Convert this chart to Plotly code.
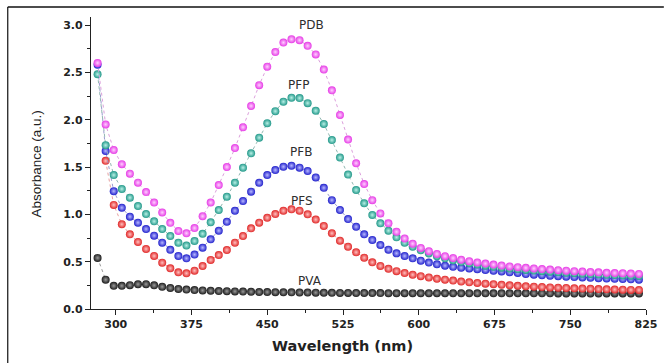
import plotly.graph_objects as go

# ---- data ----
wavelength = [282, 290, 298, 306, 314, 322, 330, 338, 346, 354, 362, 370, 378, 386, 394, 402,
              410, 418, 426, 434, 442, 450, 458, 466, 474, 482, 490, 498, 506, 514, 522, 530,
              538, 546, 554, 562, 570, 578, 586, 594, 602, 610, 618, 626, 634, 642, 650, 658,
              666, 674, 682, 690, 698, 706, 714, 722, 730, 738, 746, 754, 762, 770, 778, 786,
              794, 802, 810, 818]

pdb = [2.60, 1.95, 1.68, 1.53, 1.43, 1.335, 1.235, 1.125, 1.02, 0.91, 0.825, 0.80, 0.855, 0.98, 1.125, 1.31,
       1.50, 1.70, 1.92, 2.145, 2.365, 2.56, 2.715, 2.815, 2.85, 2.84, 2.78, 2.69, 2.53, 2.31, 2.05, 1.79,
       1.54, 1.32, 1.15, 1.01, 0.905, 0.815, 0.745, 0.69, 0.645, 0.61, 0.582, 0.558, 0.538, 0.52, 0.505, 0.492,
       0.48, 0.469, 0.459, 0.45, 0.442, 0.435, 0.428, 0.422, 0.416, 0.41, 0.405, 0.40, 0.395, 0.391, 0.387, 0.383,
       0.38, 0.377, 0.374, 0.371]

pfp = [2.48, 1.73, 1.415, 1.268, 1.176, 1.088, 1.003, 0.926, 0.845, 0.771, 0.70, 0.67, 0.718, 0.795, 0.916, 1.045,
       1.186, 1.334, 1.493, 1.645, 1.81, 1.962, 2.09, 2.19, 2.232, 2.228, 2.175, 2.095, 1.955, 1.785, 1.60, 1.42,
       1.257, 1.117, 0.993, 0.905, 0.827, 0.757, 0.70, 0.658, 0.62, 0.587, 0.558, 0.535, 0.515, 0.498, 0.483, 0.47,
       0.458, 0.447, 0.437, 0.428, 0.42, 0.413, 0.406, 0.40, 0.394, 0.388, 0.383, 0.378, 0.373, 0.369, 0.365, 0.361,
       0.358, 0.355, 0.352, 0.349]

pfb = [2.58, 1.67, 1.245, 1.07, 0.975, 0.912, 0.845, 0.775, 0.70, 0.625, 0.56, 0.535, 0.575, 0.648, 0.736, 0.827,
       0.922, 1.038, 1.14, 1.24, 1.334, 1.415, 1.468, 1.503, 1.514, 1.493, 1.458, 1.39, 1.28, 1.15, 1.046, 0.95,
       0.869, 0.789, 0.729, 0.676, 0.627, 0.588, 0.56, 0.535, 0.51, 0.49, 0.472, 0.458, 0.446, 0.436, 0.428, 0.42,
       0.412, 0.404, 0.396, 0.388, 0.38, 0.37, 0.363, 0.357, 0.351, 0.346, 0.341, 0.337, 0.333, 0.329, 0.325, 0.322,
       0.319, 0.316, 0.313, 0.31]

pfs = [None, 1.565, 1.10, 0.895, 0.789, 0.708, 0.634, 0.56, 0.489, 0.43, 0.387, 0.377, 0.405, 0.454, 0.518, 0.57,
       0.623, 0.70, 0.771, 0.852, 0.912, 0.964, 1.003, 1.038, 1.053, 1.038, 1.0, 0.945, 0.877, 0.80, 0.722, 0.658,
       0.599, 0.542, 0.493, 0.455, 0.425, 0.40, 0.38, 0.362, 0.347, 0.333, 0.32, 0.31, 0.30, 0.29, 0.282, 0.275,
       0.268, 0.262, 0.256, 0.25, 0.245, 0.24, 0.236, 0.232, 0.228, 0.225, 0.222, 0.219, 0.216, 0.213, 0.21, 0.208,
       0.206, 0.204, 0.202, 0.20]

pva = [0.54, 0.31, 0.245, 0.245, 0.252, 0.262, 0.262, 0.25, 0.235, 0.222, 0.212, 0.205, 0.20, 0.196, 0.193, 0.19,
       0.188, 0.186, 0.184, 0.182, 0.18, 0.179, 0.178, 0.177, 0.176, 0.175, 0.174, 0.173, 0.172, 0.171, 0.17, 0.17,
       0.169, 0.169, 0.168, 0.168, 0.167, 0.167, 0.167, 0.167, 0.167, 0.167, 0.167, 0.167, 0.167, 0.167, 0.167, 0.166,
       0.166, 0.166, 0.166, 0.166, 0.166, 0.166, 0.166, 0.166, 0.166, 0.165, 0.165, 0.165, 0.165, 0.165, 0.165, 0.165,
       0.165, 0.165, 0.165, 0.165]

series_names = ["PVA", "PFS", "PFB", "PFP", "PDB"]
series_values = [pva, pfs, pfb, pfp, pdb]
marker_colors = ["#1c1c1c", "#e02828", "#2222cc", "#23998a", "#e63ce6"]
highlight_colors = ["#9a9a9a", "#ffc0c0", "#b8b8ff", "#b8f0e6", "#ffd0ff"]
line_colors = ["#9a9a9a", "#e8a0a0", "#9a9ad0", "#92b8b2", "#dca0dc"]

label_text = ["PDB", "PFP", "PFB", "PFS", "PVA"]
label_x = [493.8, 480.6, 483.8, 484.8, 492.0]
label_y = [3.0, 2.366, 1.662, 1.141, 0.299]

x_ticks = [300, 375, 450, 525, 600, 675, 750, 825]
y_ticks = [0.0, 0.5, 1.0, 1.5, 2.0, 2.5, 3.0]

fig = go.Figure()
for name, vals, mc, hc, lc in zip(series_names, series_values, marker_colors, highlight_colors, line_colors):
    fig.add_trace(go.Scatter(
        x=wavelength, y=vals, name=name, mode="lines+markers",
        line=dict(color=lc, width=1, dash="dot"),
        marker=dict(size=8, color=mc, line=dict(width=0),
                    gradient=dict(type="radial", color=hc)),
        connectgaps=False, showlegend=False, cliponaxis=False,
    ))

for t, x, y in zip(label_text, label_x, label_y):
    fig.add_annotation(x=x, y=y, xref="x", yref="y", text=t, showarrow=False,
                       xanchor="center", yanchor="middle",
                       font=dict(family="DejaVu Sans", size=12, color="#2e2e2e"))

# axis titles
fig.add_annotation(x=(345 - 91) / 560, y=(309 - 346) / 292, xref="paper", yref="paper",
                   text="Wavelength (nm)", showarrow=False, xanchor="center", yanchor="middle",
                   font=dict(family="DejaVu Sans", size=14.5, color="#222222", weight="bold"))
fig.add_annotation(x=(36 - 91) / 560, y=(309 - 164) / 292, xref="paper", yref="paper",
                   text="Absorbance (a.u.)", showarrow=False, textangle=-90,
                   xanchor="center", yanchor="middle",
                   font=dict(family="Liberation Sans", size=13.5, color="#222222"))

# frame edges (left and top only, as in the cropped reference)
fig.add_shape(type="line", xref="paper", yref="paper",
              x0=(7 - 91) / 560, x1=(669 - 91) / 560, y0=(309 - 7) / 292, y1=(309 - 7) / 292,
              line=dict(color="#111111", width=1.6))
fig.add_shape(type="line", xref="paper", yref="paper",
              x0=(7 - 91) / 560, x1=(7 - 91) / 560, y0=(309 - 7) / 292, y1=(309 - 365) / 292,
              line=dict(color="#111111", width=1.2))

fig.update_layout(
    width=669, height=363,
    margin=dict(l=91, r=18, t=17, b=54, pad=0),
    paper_bgcolor="white", plot_bgcolor="white",
    xaxis=dict(range=[275.5, 825], tickvals=x_ticks, ticktext=[str(v) for v in x_ticks],
               showgrid=False, zeroline=False, showline=True, linecolor="#222222", linewidth=1.2,
               ticks="outside", ticklen=5, tickwidth=1.2, tickcolor="#222222",
               minor=dict(ticks="outside", ticklen=3, tickwidth=1, tickcolor="#222222",
                          tickvals=[337.5, 412.5, 487.5, 562.5, 637.5, 712.5, 787.5]),
               tickfont=dict(family="DejaVu Sans", size=11, color="#222222", weight="bold")),
    yaxis=dict(range=[0, 3.085], tickvals=y_ticks, ticktext=["%.1f" % v for v in y_ticks],
               showgrid=False, zeroline=False, showline=True, linecolor="#222222", linewidth=1.2,
               ticks="outside", ticklen=5, tickwidth=1.2, tickcolor="#222222",
               minor=dict(ticks="outside", ticklen=3, tickwidth=1, tickcolor="#222222",
                          tickvals=[0.25, 0.75, 1.25, 1.75, 2.25, 2.75]),
               tickfont=dict(family="DejaVu Sans", size=11, color="#222222", weight="bold")),
)

fig.write_html("out.html", config={"displayModeBar": False},
               post_script="document.body.style.margin='0';document.body.style.overflow='hidden';")
